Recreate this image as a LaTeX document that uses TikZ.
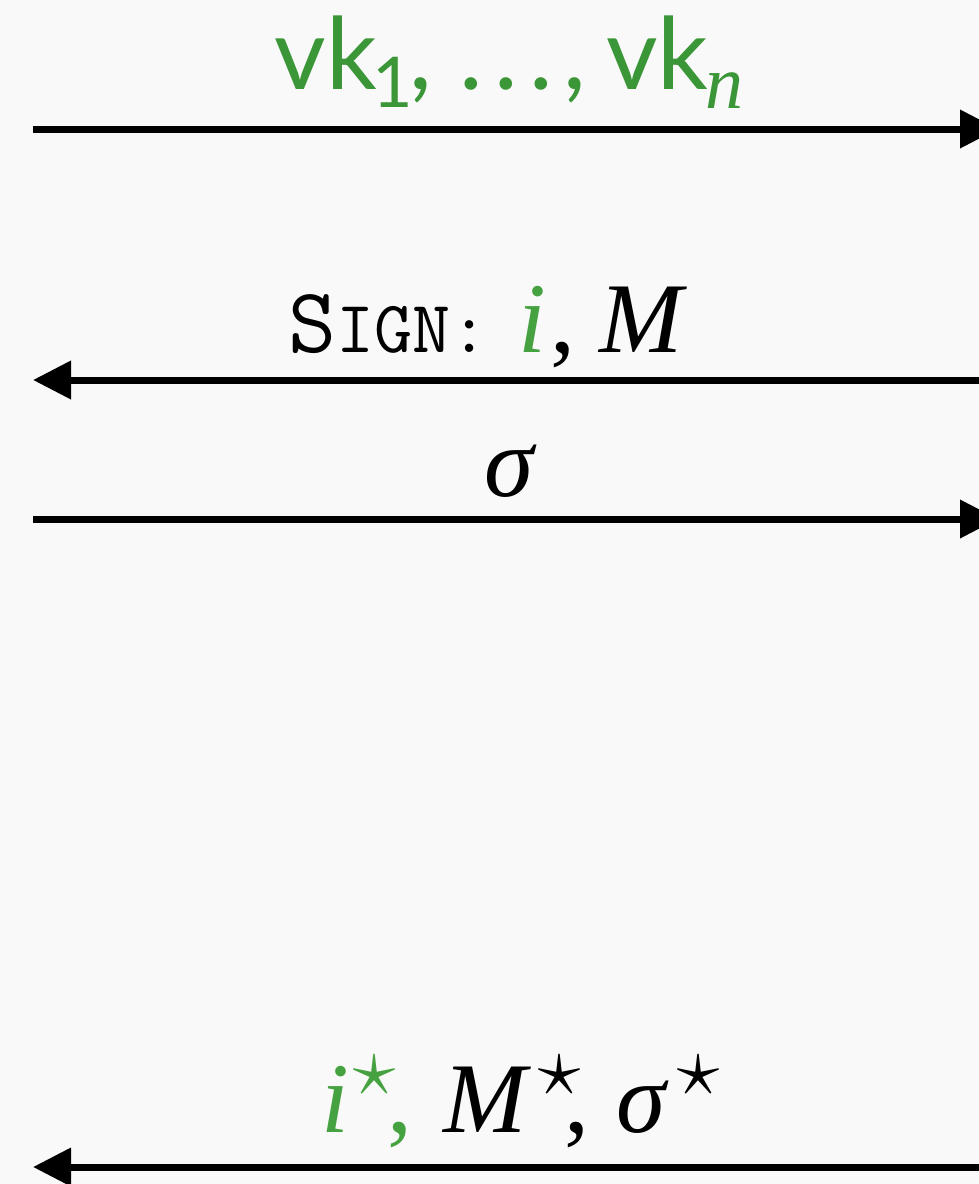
\documentclass[tikz,border=0pt]{standalone}
\usepackage{fontspec}
\usepackage{graphicx}
\setmainfont{Liberation Serif}
\newfontfamily\vkfont{Lato}
\usetikzlibrary{arrows.meta}
\definecolor{bgcol}{RGB}{249,249,249}
\definecolor{vkgreen}{RGB}{58,150,54}
\definecolor{igreen}{RGB}{70,162,64}
% place #2 at horizontal offset #1 (in pixels of the reference, 1px = 0.5pt) from the node origin
\newcommand{\putat}[2]{\makebox[0pt][l]{\hspace{#1\dimexpr 0.5pt\relax}#2}}
\newcommand{\vkone}{\raisebox{-9pt}{\fontsize{35}{40}\selectfont 1}}
\newcommand{\vkn}{\raisebox{-9.5pt}{\rmfamily\itshape\fontsize{38}{42}\selectfont n}}
\newcommand{\strsup}{\raisebox{18.5pt}{\resizebox{21pt}{!}{$\star$}}}
\begin{document}
\begin{tikzpicture}[x=0.5pt,y=-0.5pt,
  msg/.style={line width=3.5pt,-{Triangle[length=19pt,width=18.5pt]}},
  lbl/.style={inner sep=0pt,font=\fontsize{50}{60}\selectfont}]
\fill[bgcol] (0,0) rectangle (979,1184);
\useasboundingbox (0,0) rectangle (979,1184);
% end points
\coordinate (a1) at (33,129);  \coordinate (b1) at (998,129);
\coordinate (a2) at (33,380);  \coordinate (b2) at (1020,380);
\coordinate (a3) at (33,519);  \coordinate (b3) at (998,519);
\coordinate (a4) at (33,1167); \coordinate (b4) at (1020,1167);
% labels (offsets relative to the left end of each label)
\node[lbl,anchor=base west,text=vkgreen,font=\fontsize{50}{60}\selectfont\vkfont] (t1) at (273,89)
  {\putat{0}{vk}\putat{98}{\vkone}\putat{135}{,}\putat{185}{.}\putat{220}{.}\putat{255}{.}%
   \putat{289}{,}\putat{332}{vk}\putat{431}{\vkn}\hspace{232pt}};
\node[lbl,anchor=base west] (t2) at (287,352)
  {\putat{0}{\ttfamily\fontsize{46.5}{50}\selectfont S\fontsize{37}{40}\selectfont IGN:}%
   \putat{230}{\color{igreen}\itshape i}\putat{262}{,}\putat{311}{\itshape M}\hspace{200pt}};
\node[lbl,anchor=base] (t3) at (509,496) {\itshape σ};
\node[lbl,anchor=base west] (t4) at (320,1132)
  {\color{igreen}\putat{0}{\itshape i}\putat{32}{\strsup}\putat{66}{,}%
   \color{black}\putat{122}{\itshape M}\putat{217}{\strsup}\putat{243}{,}%
   \putat{295}{\itshape σ}\putat{356}{\strsup}\hspace{200pt}};
% arrows
\draw[msg] (a1) -- (b1);
\draw[msg] (b2) -- (a2);
\draw[msg] (a3) -- (b3);
\draw[msg] (b4) -- (a4);
\end{tikzpicture}
\end{document}
